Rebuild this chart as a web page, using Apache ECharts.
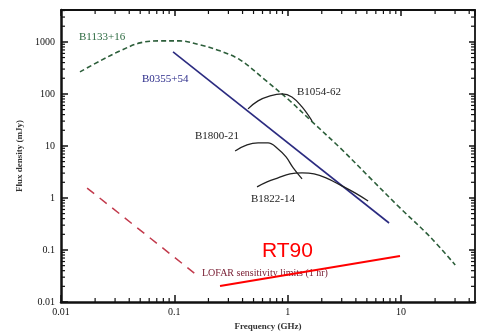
<!DOCTYPE html>
<html>
<head>
<meta charset="utf-8">
<script src="https://cdn.jsdelivr.net/npm/echarts@6/dist/echarts.min.js"></script>
<style>
html, body { margin: 0; padding: 0; background: #fff; }
#chart { width: 483px; height: 331px; }
</style>
</head>
<body>
<div id="chart"></div>
<script>
// Pulsar spectra: frequency in GHz, flux density in mJy
const b1133Freq = [0.0147, 0.0221, 0.0332, 0.0498, 0.0748, 0.112, 0.169, 0.253, 0.380, 0.632, 1.05, 1.58, 2.90, 5.33, 9.81, 18.1, 30.1];
const b1133Flux = [265, 431, 672, 957, 1045, 1045, 875, 672, 451, 186, 73, 31.6, 9.2, 2.43, 0.643, 0.178, 0.0515];
const b0355Freq = [0.0974, 7.85];
const b0355Flux = [642, 0.33];
const b1054Freq = [0.447, 0.548, 0.700, 0.893, 1.09, 1.34, 1.64];
const b1054Flux = [51.5, 73.3, 91.5, 100, 87.5, 56.2, 30.3];
const b1800Freq = [0.344, 0.438, 0.548, 0.671, 0.823, 0.968, 1.12, 1.34];
const b1800Flux = [8.01, 10.45, 11.4, 11.4, 8.75, 6.14, 3.78, 2.32];
const b1822Freq = [0.537, 0.658, 0.823, 1.05, 1.34, 1.71, 2.18, 2.90, 3.93, 5.13];
const b1822Flux = [1.63, 2.03, 2.43, 2.90, 3.03, 2.90, 2.43, 1.78, 1.25, 0.875];
// LOFAR sensitivity limit
const lofarFreq = [0.017, 0.15];
const lofarFlux = [1.55, 0.036];
// RT90 line
const rt90Freq = [0.253, 9.8];
const rt90Flux = [0.0203, 0.0768];

const xTickLabels = ['0.01', '0.1', '1', '10'];
const yTickLabels = ['0.01', '0.1', '1', '10', '100', '1000'];

const X_MIN = 0.01, X_MAX = 45;
const Y_MIN = 0.01, Y_MAX = 4100;

const zip = (a, b) => a.map((v, i) => [v, b[i]]);

// minor tick positions (2..9 within each decade) inside a range
function minorTicks(lo, hi) {
  const out = [];
  for (let d = Math.floor(Math.log10(lo)); d <= Math.ceil(Math.log10(hi)); d++) {
    for (let k = 2; k <= 9; k++) {
      const v = +(k * Math.pow(10, d)).toPrecision(6);
      if (v > lo && v < hi) out.push(v);
    }
  }
  return out;
}
const xMinor = minorTicks(X_MIN, X_MAX);
const yMinor = minorTicks(Y_MIN, Y_MAX);

function decadeLabel(labels) {
  return function (v) {
    const l = Math.log10(v);
    const r = Math.round(l);
    if (Math.abs(l - r) > 1e-6) return '';
    return labels[r + 2] || '';
  };
}

const serif = 'Liberation Serif';
const ink = '#111';

// short inward tick marks along one frame side, placed through the axis scales
function tickSeries(values, dim, side, len) {
  const data = values.map(v => {
    if (dim === 'x') return [v, side === 'bottom' ? Y_MIN : Y_MAX];
    return [side === 'left' ? X_MIN : X_MAX, v];
  });
  return {
    type: 'custom', coordinateSystem: 'cartesian2d', xAxisIndex: 0, yAxisIndex: 0,
    silent: true, clip: false, z: 6,
    data: data,
    renderItem: function (params, api) {
      const p = api.coord([api.value(0), api.value(1)]);
      let x2 = p[0], y2 = p[1];
      if (side === 'bottom') y2 -= len;
      else if (side === 'top') y2 += len;
      else if (side === 'left') x2 += len;
      else x2 -= len;
      return {
        type: 'line',
        shape: { x1: p[0], y1: p[1], x2: x2, y2: y2 },
        style: { stroke: ink, lineWidth: 1.2 }
      };
    }
  };
}

const chart = echarts.init(document.getElementById('chart'), null, { renderer: 'canvas' });

const lineBase = { type: 'line', showSymbol: false, symbol: 'none', silent: true };

chart.setOption({
  backgroundColor: '#ffffff',
  animation: false,
  grid: { left: 61, right: 8, top: 10, bottom: 29, outerBoundsMode: 'none' },
  xAxis: [
    {
      type: 'log', logBase: 10, min: X_MIN, max: X_MAX, position: 'bottom',
      axisLine: { show: true, lineStyle: { color: ink, width: 2.5 } },
      axisTick: { show: true, inside: true, length: 7, lineStyle: { color: ink, width: 1.5 } },
      axisLabel: { formatter: decadeLabel(xTickLabels), fontFamily: serif, fontSize: 10, color: '#111', margin: 5, showMaxLabel: false },
      splitLine: { show: false },
      name: 'Frequency (GHz)', nameLocation: 'middle', nameGap: 18,
      nameTextStyle: { fontFamily: serif, fontSize: 9, fontWeight: 'bold', color: '#333' }
    },
    {
      type: 'log', logBase: 10, min: X_MIN, max: X_MAX, position: 'top',
      axisLine: { show: true, lineStyle: { color: ink, width: 1.8 } },
      axisTick: { show: true, inside: true, length: 6, lineStyle: { color: ink, width: 1.5 } },
      axisLabel: { show: false }, splitLine: { show: false }
    }
  ],
  yAxis: [
    {
      type: 'log', logBase: 10, min: Y_MIN, max: Y_MAX, position: 'left',
      axisLine: { show: true, lineStyle: { color: ink, width: 2.5 } },
      axisTick: { show: true, inside: true, length: 7, lineStyle: { color: ink, width: 1.5 } },
      axisLabel: { formatter: decadeLabel(yTickLabels), fontFamily: serif, fontSize: 10, color: '#111', margin: 6, showMaxLabel: false },
      splitLine: { show: false },
      name: 'Flux density (mJy)', nameLocation: 'middle', nameGap: 36,
      nameTextStyle: { fontFamily: serif, fontSize: 9, fontWeight: 'bold', color: '#333' }
    },
    {
      type: 'log', logBase: 10, min: Y_MIN, max: Y_MAX, position: 'right',
      axisLine: { show: true, lineStyle: { color: ink, width: 1.8 } },
      axisTick: { show: true, inside: true, length: 6, lineStyle: { color: ink, width: 1.5 } },
      axisLabel: { show: false }, splitLine: { show: false }
    }
  ],
  series: [
    Object.assign({}, lineBase, {
      name: 'B1133+16', data: zip(b1133Freq, b1133Flux), smooth: 0.35,
      lineStyle: { color: '#2c5e3a', width: 1.6, type: [5, 3] }
    }),
    Object.assign({}, lineBase, {
      name: 'B0355+54', data: zip(b0355Freq, b0355Flux),
      lineStyle: { color: '#2b2b80', width: 1.6 }
    }),
    Object.assign({}, lineBase, {
      name: 'B1054-62', data: zip(b1054Freq, b1054Flux), smooth: 0.4,
      lineStyle: { color: '#222', width: 1.3 }
    }),
    Object.assign({}, lineBase, {
      name: 'B1800-21', data: zip(b1800Freq, b1800Flux), smooth: 0.4,
      lineStyle: { color: '#222', width: 1.3 }
    }),
    Object.assign({}, lineBase, {
      name: 'B1822-14', data: zip(b1822Freq, b1822Flux), smooth: 0.4,
      lineStyle: { color: '#222', width: 1.3 }
    }),
    Object.assign({}, lineBase, {
      name: 'LOFAR', data: zip(lofarFreq, lofarFlux),
      lineStyle: { color: '#c23a4c', width: 1.5, type: [9, 7] }
    }),
    Object.assign({}, lineBase, {
      name: 'RT90', data: zip(rt90Freq, rt90Flux), z: 5,
      lineStyle: { color: '#ff0000', width: 2 }
    }),
    tickSeries(xMinor, 'x', 'bottom', 4),
    tickSeries(xMinor, 'x', 'top', 4),
    tickSeries(yMinor, 'y', 'left', 4),
    tickSeries(yMinor, 'y', 'right', 4)
  ],
  graphic: [
    { type: 'text', left: 79, top: 32, style: { text: 'B1133+16', font: '11px "Liberation Serif"', fill: '#2c6a40' } },
    { type: 'text', left: 142, top: 74, style: { text: 'B0355+54', font: '11px "Liberation Serif"', fill: '#2b2b8a' } },
    { type: 'text', left: 297, top: 87, style: { text: 'B1054-62', font: '11px "Liberation Serif"', fill: '#222' } },
    { type: 'text', left: 195, top: 131, style: { text: 'B1800-21', font: '11px "Liberation Serif"', fill: '#222' } },
    { type: 'text', left: 251, top: 194, style: { text: 'B1822-14', font: '11px "Liberation Serif"', fill: '#222' } },
    { type: 'text', left: 202, top: 268, style: { text: 'LOFAR sensitivity limits (1 hr)', font: '10px "Liberation Serif"', fill: '#7a2035' } },
    { type: 'text', left: 262, top: 241, z: 10, style: { text: 'RT90', font: '21px "Liberation Sans"', fill: '#ff0000' } }
  ]
});
</script>
</body>
</html>
